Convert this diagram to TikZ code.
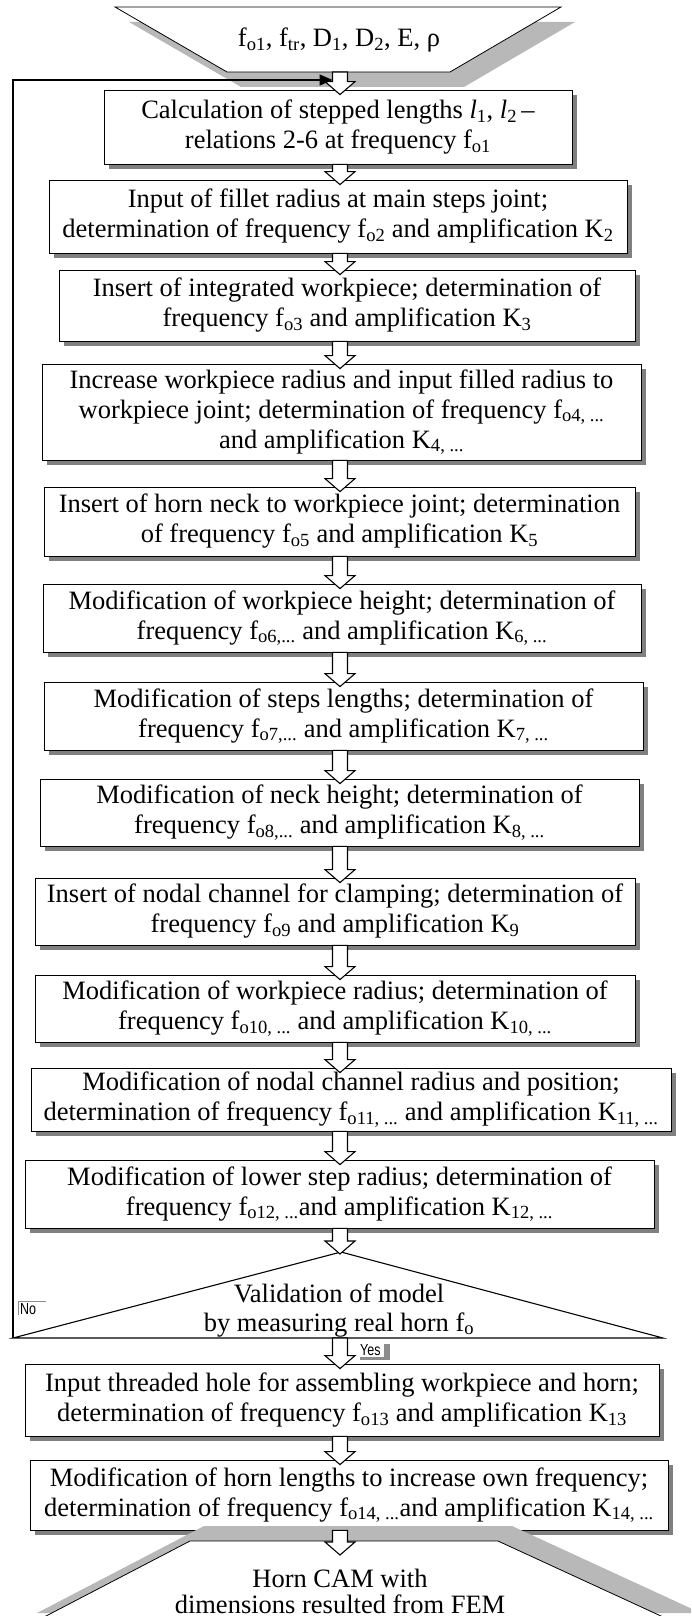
\documentclass[tikz,border=0pt]{standalone}
\usepackage{fontspec}
\usepackage{graphicx}
\setmainfont{Liberation Serif}
\newfontfamily\lblfont{Liberation Sans}
\usetikzlibrary{calc,arrows.meta}
\newcommand{\sbs}[1]{\textsubscript{#1}}
\newcommand{\narrow}[1]{\scalebox{0.78}[1]{#1}}
\definecolor{boxshd}{gray}{0.5}
\definecolor{trapshd}{gray}{0.72}
\definecolor{lblgray}{gray}{0.55}
% box: name, x1, x2, ytop, ybottom, text
\newcommand{\flowbox}[6]{%
  \fill[boxshd] (#2+5,-#4-5) rectangle (#3+5,-#5-5);
  \pgfmathsetmacro\bw{#3-#2}\pgfmathsetmacro\bh{#5-#4}%
  \node[fbox, minimum width=\bw pt, minimum height=\bh pt] (#1) at ({(#2+#3)/2},{-(#4+#5)/2}) {#6};}
% hollow block arrow from point #1 to point #2
\newcommand{\hollowarrow}[2]{%
  \draw[harrow] let \p1=#1, \p2=#2 in
    (332.5,\y1) -- (347.5,\y1) -- (347.5,\y2+8) -- (355,\y2+8) -- (340,\y2-5)
    -- (325,\y2+8) -- (332.5,\y2+8) -- cycle;}
\begin{document}
\begin{tikzpicture}[x=1pt,y=1pt,
  fbox/.style={draw, line width=0.8pt, fill=white, align=center, inner sep=0pt,
    font=\fontsize{26.5}{30}\selectfont},
  harrow/.style={draw, line width=1.1pt, fill=white, line join=miter},
  trap/.style={draw, line width=0.8pt, fill=white},
  ttext/.style={inner sep=0pt, font=\fontsize{26.5}{30}\selectfont},
  fbline/.style={line width=1.6pt, -{Triangle[length=13pt,width=11pt]}},
  lbl/.style={inner sep=0pt, font=\lblfont\fontsize{16}{18}\selectfont}]
\useasboundingbox (0,0) rectangle (691,-1616);
\clip (0,0) rectangle (691,-1616);
\fill[white] (0,0) rectangle (691,-1616);

% top input trapezoid
\fill[trapshd] (115+14,-7-15) -- (561+14,-7-15) -- (450+14,-72-15) -- (227+14,-72-15) -- cycle;
\draw[trap] (115,-7) -- (561,-7) -- (450,-72) -- (227,-72) -- cycle;
\node[ttext] (inp) at (339,-40) {f\sbs{o1}, f\sbs{tr}, D\sbs{1}, D\sbs{2}, E, ρ};
\coordinate (inpb) at (340,-72);

\flowbox{b1}{104}{572}{90}{164}{Calculation of stepped lengths \textit{l}\sbs{1}, \textit{l}\sbs{2}\,–\\relations 2-6 at frequency f\sbs{o1}}
\flowbox{b2}{49}{627}{180}{253}{Input of fillet radius at main steps joint;\\determination of frequency f\sbs{o2} and amplification K\sbs{2}}
\flowbox{b3}{59}{635}{270}{341}{Insert of integrated workpiece; determination of\\frequency f\sbs{o3} and amplification K\sbs{3}}
\flowbox{b4}{42}{641}{364}{460}{Increase workpiece radius and input filled radius to\\workpiece joint; determination of frequency f\sbs{o4, ...}\\and amplification K\sbs{4, ...}}
\flowbox{b5}{44}{635}{487}{556}{Insert of horn neck to workpiece joint; determination\\of frequency f\sbs{o5} and amplification K\sbs{5}}
\flowbox{b6}{43}{641}{584}{652}{Modification of workpiece height; determination of\\frequency f\sbs{o6,...} and amplification K\sbs{6, ...}}
\flowbox{b7}{44}{643}{682}{750}{Modification of steps lengths; determination of\\frequency f\sbs{o7,...} and amplification K\sbs{7, ...}}
\flowbox{b8}{40}{639}{779}{846}{Modification of neck height; determination of\\frequency f\sbs{o8,...} and amplification K\sbs{8, ...}}
\flowbox{b9}{35}{635}{878}{945}{Insert of nodal channel for clamping; determination of\\frequency f\sbs{o9} and amplification K\sbs{9}}
\flowbox{b10}{35}{635}{975}{1042}{Modification of workpiece radius; determination of\\frequency f\sbs{o10, ...} and amplification K\sbs{10, ...}}
\flowbox{b11}{31}{671}{1068}{1131}{Modification of nodal channel radius and position;\\determination of frequency f\sbs{o11, ...} and amplification K\sbs{11, ...}}
\flowbox{b12}{25}{654}{1160}{1228}{Modification of lower step radius; determination of\\frequency f\sbs{o12, ...}and amplification K\sbs{12, ...}}

% decision
\coordinate (dtop) at (341,-1252);
\coordinate (dl) at (13,-1338);
\coordinate (dr) at (663,-1338);
\coordinate (dbot) at (340,-1338);
\draw[line width=1.1pt, fill=white] (dtop) -- (dr) -- (dl) -- cycle;
\node[ttext, anchor=base] (val1) at (339,-1302) {Validation of model};
\node[ttext, anchor=base] (val2) at (339,-1331) {by measuring real horn f\sbs{o}};

\flowbox{b13}{25}{659}{1364}{1436}{Input threaded hole for assembling workpiece and horn;\\determination of frequency f\sbs{o13} and amplification K\sbs{13}}
\flowbox{b14}{30}{668}{1460}{1530}{Modification of horn lengths to increase own frequency;\\determination of frequency f\sbs{o14, ...}and amplification K\sbs{14, ...}}

% bottom output trapezoid
\fill[trapshd] (190+14,-1541+15) -- (498+14,-1541+15) -- (687+14,-1628+15) -- (23+14,-1628+15) -- cycle;
\draw[trap] (190,-1541) -- (498,-1541) -- (687,-1628) -- (23,-1628) -- cycle;
\node[ttext] (out1) at (340,-1578) {Horn CAM with};
\node[ttext] (out2) at (340,-1604) {dimensions resulted from FEM};
\coordinate (outtop) at (340,-1550);

% hollow arrows
\hollowarrow{(inpb)}{(b1.north)}
\hollowarrow{(b1.south)}{(b2.north)}
\hollowarrow{(b2.south)}{(b3.north)}
\hollowarrow{(b3.south)}{(b4.north)}
\hollowarrow{(b4.south)}{(b5.north)}
\hollowarrow{(b5.south)}{(b6.north)}
\hollowarrow{(b6.south)}{(b7.north)}
\hollowarrow{(b7.south)}{(b8.north)}
\hollowarrow{(b8.south)}{(b9.north)}
\hollowarrow{(b9.south)}{(b10.north)}
\hollowarrow{(b10.south)}{(b11.north)}
\hollowarrow{(b11.south)}{(b12.north)}
\hollowarrow{(b12.south)}{($(dtop)+(0,3)$)}
\hollowarrow{(dbot)}{(b13.north)}
\hollowarrow{(b13.south)}{(b14.north)}
\hollowarrow{(b14.south)}{(outtop)}

% feedback loop
\coordinate (fbend) at (332.5,-80);
\draw[fbline] (dl) |- (fbend);

% labels
\node[lbl, anchor=north west] (no) at (20,-1303) {\narrow{No}};
\draw[lblgray, line width=1pt] ($(no.south west)+(-2,0)$) |- ($(no.north east)+(10,2)$);
\node[lbl, anchor=north west] (yes) at (360,-1344) {\narrow{Yes}};
\fill[lblgray] ($(yes.north east)+(3,0)$) rectangle ($(yes.south east)+(9,-4)$);
\fill[lblgray] ($(yes.south west)+(0,-1)$) rectangle ($(yes.south east)+(9,-4)$);
\end{tikzpicture}
\end{document}
